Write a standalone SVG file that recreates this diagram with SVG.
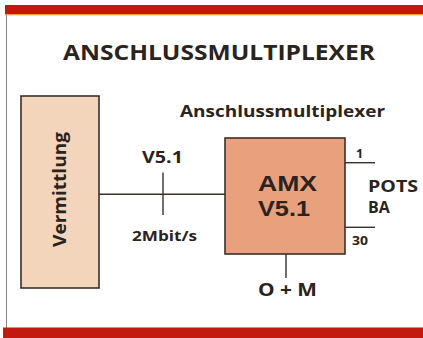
<svg xmlns="http://www.w3.org/2000/svg" width="423" height="338" viewBox="0 0 423 338">
<style>
text{font-family:"Open Sans","Noto Sans","Liberation Sans",sans-serif;font-weight:bold;fill:#2a2320}
.amx{font-family:"Liberation Sans",Arial,sans-serif;font-size:22.5px}
.box{stroke:#3b302c;stroke-width:1.6}
.ln{stroke:#3b302c;stroke-width:1.4;fill:none}
</style>
<rect x="0" y="0" width="423" height="338" fill="#ffffff"/>
<rect x="5" y="5" width="418" height="9.5" fill="#c3180f"/>
<rect x="5" y="14" width="418" height="1.3" fill="#f0a030"/>
<line x1="6.5" y1="15" x2="6.5" y2="328" stroke="#8a8580" stroke-width="1"/>
<rect x="3" y="327.5" width="420" height="10.5" fill="#c3180f"/>
<text x="219" y="60" font-size="22" text-anchor="middle" textLength="312" lengthAdjust="spacingAndGlyphs">ANSCHLUSSMULTIPLEXER</text>
<text x="180" y="117" font-size="16.5" textLength="205" lengthAdjust="spacingAndGlyphs">Anschlussmultiplexer</text>
<g id="connectors">
<line class="ln" x1="99" y1="194.3" x2="225" y2="194.3"/>
<line class="ln" x1="163" y1="172.5" x2="163" y2="215"/>
<line class="ln" x1="345" y1="162.7" x2="375" y2="162.7"/>
<line class="ln" x1="345" y1="227.3" x2="375" y2="227.3"/>
<line class="ln" x1="286" y1="254" x2="286" y2="278"/>
</g>
<g id="vermittlung">
<rect class="box" x="21" y="96" width="78" height="192" fill="#f3d5bb"/>
<text x="0" y="0" font-size="17" text-anchor="middle" transform="translate(65.5,189.5) rotate(-90)" textLength="115" lengthAdjust="spacingAndGlyphs">Vermittlung</text>
</g>
<g id="amx">
<rect class="box" x="225" y="138" width="120" height="116" fill="#e9a07c"/>
<text class="amx" x="258" y="190.5" textLength="59" lengthAdjust="spacingAndGlyphs">AMX</text>
<text class="amx" x="258" y="216" textLength="52" lengthAdjust="spacingAndGlyphs">V5.1</text>
</g>
<g id="labels">
<text x="162.5" y="163.3" font-size="16.5" text-anchor="middle" textLength="41" lengthAdjust="spacingAndGlyphs">V5.1</text>
<text x="164.5" y="240.7" font-size="15" text-anchor="middle" textLength="65" lengthAdjust="spacingAndGlyphs">2Mbit/s</text>
<text x="356" y="158" font-size="12.5">1</text>
<text x="352" y="245" font-size="12.5" textLength="16" lengthAdjust="spacingAndGlyphs">30</text>
<text x="368" y="191.7" font-size="16" textLength="50" lengthAdjust="spacingAndGlyphs">POTS</text>
<text x="368" y="212.7" font-size="16">BA</text>
<text x="287.5" y="296" font-size="17" text-anchor="middle" textLength="59" lengthAdjust="spacingAndGlyphs">O + M</text>
</g>
</svg>
